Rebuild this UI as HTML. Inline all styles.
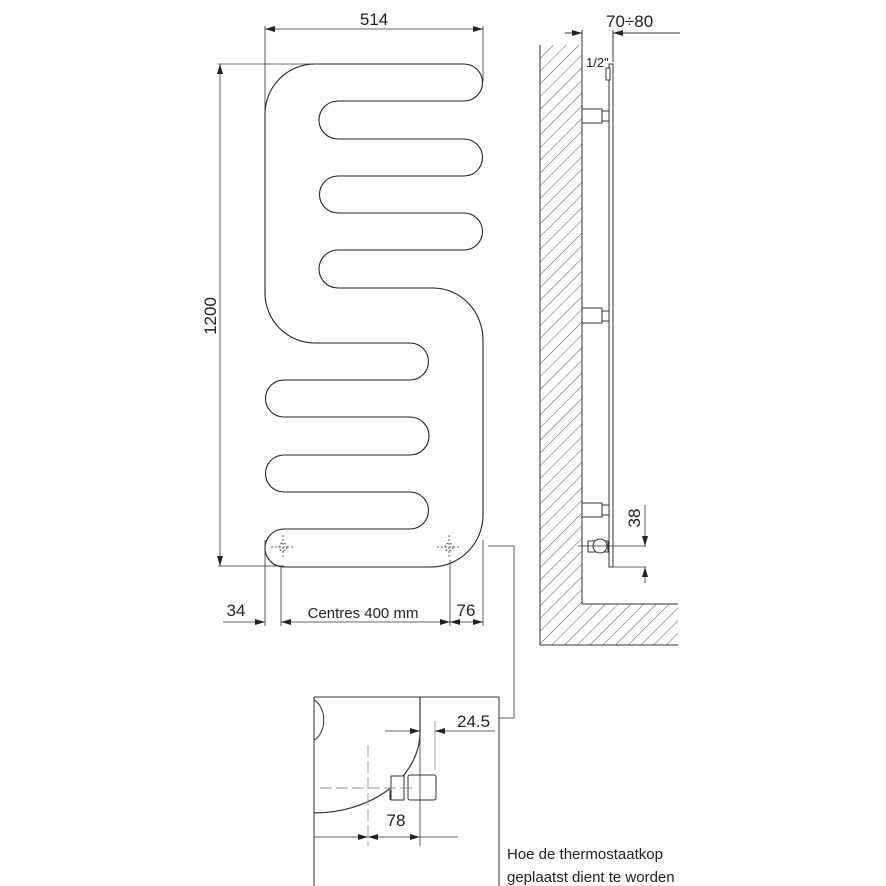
<!DOCTYPE html>
<html><head><meta charset="utf-8"><style>
html,body{margin:0;padding:0;background:#fff;}
svg{display:block;}
text{font-family:"Liberation Sans Narrow","Liberation Sans",sans-serif;fill:#222;}
</style></head><body>
<svg width="886" height="886" viewBox="0 0 886 886" xmlns="http://www.w3.org/2000/svg">
<defs>
<marker id="a" viewBox="0 0 10 6" refX="10" refY="3" markerWidth="10" markerHeight="6" markerUnits="userSpaceOnUse" orient="auto"><path d="M0,0 L10,3 L0,6 Z" fill="#222"/></marker>
<pattern id="h" patternUnits="userSpaceOnUse" width="9" height="9" patternTransform="rotate(45)"><line x1="0" y1="0" x2="0" y2="9" stroke="#444" stroke-width="0.9"/></pattern>
<clipPath id="wc"><path d="M540 45 H582 V604 H678 V645 H540 Z"/></clipPath>
</defs>
<g fill="none" stroke="#222" stroke-width="1.1">
<path d="M318 64 H464 A18.5 18.5 0 0 1 464 101 H338 A19 19 0 0 0 338 139 H464 A18.5 18.5 0 0 1 464 176 H338 A18.5 18.5 0 0 0 338 213 H464 A18.5 18.5 0 0 1 464 250 H338 A19 19 0 0 0 338 288 H433 A50 52 0 0 1 483 340 V515 A52 52 0 0 1 431 567 H284 A19 19 0 0 1 284 529 H410 A18.5 18.5 0 0 0 410 492 H284 A18.5 18.5 0 0 1 284 455 H410 A19 19 0 0 0 410 417 H284 A18.5 18.5 0 0 1 284 380 H410 A18.5 18.5 0 0 0 410 343 H315 A50 50 0 0 1 265 293 V114 A50 50 0 0 1 315 64 Z"/>
</g>
<g fill="none" stroke="#333" stroke-width="0.8" stroke-dasharray="2,2">
<circle cx="283" cy="547" r="4"/><line x1="271" y1="547" x2="295" y2="547"/><line x1="283" y1="535" x2="283" y2="559"/>
<circle cx="449" cy="547" r="4"/><line x1="437" y1="547" x2="461" y2="547"/><line x1="449" y1="535" x2="449" y2="559"/>
</g>
<g fill="none" stroke="#333" stroke-width="0.8">
<line x1="265" y1="26" x2="265" y2="114"/><line x1="483" y1="26" x2="483" y2="82"/>
<line x1="300" y1="29" x2="483" y2="29" marker-end="url(#a)"/><line x1="300" y1="29" x2="265" y2="29" marker-end="url(#a)"/>
<line x1="218" y1="64" x2="318" y2="64"/><line x1="218" y1="566" x2="284" y2="566"/>
<line x1="220" y1="300" x2="220" y2="64" marker-end="url(#a)"/><line x1="220" y1="300" x2="220" y2="566" marker-end="url(#a)"/>
<line x1="265" y1="540" x2="265" y2="626"/><line x1="281" y1="566" x2="281" y2="626"/><line x1="450" y1="560" x2="450" y2="626"/><line x1="483" y1="540" x2="483" y2="626"/>
<line x1="223" y1="622" x2="265" y2="622" marker-end="url(#a)"/>
<line x1="360" y1="622" x2="281" y2="622" marker-end="url(#a)"/><line x1="360" y1="622" x2="450" y2="622" marker-end="url(#a)"/>
<line x1="466" y1="622" x2="450" y2="622" marker-end="url(#a)"/><line x1="466" y1="622" x2="483" y2="622" marker-end="url(#a)"/>
<polyline points="488,546 514,546 514,718 499,718"/>
</g>
<text x="374" y="25" font-size="17" text-anchor="middle">514</text>
<text transform="translate(216,316) rotate(-90)" font-size="17" text-anchor="middle">1200</text>
<text x="236" y="616" font-size="17" text-anchor="middle">34</text>
<text x="363" y="618" font-size="15" text-anchor="middle">Centres 400 mm</text>
<text x="466" y="616" font-size="17" text-anchor="middle">76</text>
<rect x="530" y="40" width="160" height="610" fill="url(#h)" clip-path="url(#wc)"/>
<g fill="none" stroke="#333" stroke-width="1">
<line x1="540" y1="45" x2="540" y2="645"/><line x1="540" y1="645" x2="678" y2="645"/>
<polyline points="582,30 582,604 678,604"/>
<line x1="613" y1="30" x2="613" y2="62"/>
<line x1="565" y1="33" x2="582" y2="33" marker-end="url(#a)"/><line x1="680" y1="33" x2="613" y2="33" marker-end="url(#a)"/>
</g>
<g fill="#fff" stroke="#333" stroke-width="1">
<rect x="609" y="64" width="4" height="503"/>
<rect x="606" y="68" width="4" height="12"/>
<rect x="582" y="109" width="20" height="14"/><rect x="602" y="111" width="7" height="10"/>
<rect x="582" y="308" width="20" height="15"/><rect x="602" y="311" width="7" height="10"/>
<rect x="582" y="503" width="20" height="14"/><rect x="602" y="505" width="7" height="10"/>
<rect x="588" y="541" width="20" height="11"/>
<circle cx="600" cy="546" r="7"/>
</g>
<g fill="none" stroke="#333" stroke-width="0.8">
<line x1="578" y1="546" x2="646" y2="546"/><line x1="610" y1="567" x2="646" y2="567"/>
<line x1="645" y1="505" x2="645" y2="546" marker-end="url(#a)"/><line x1="645" y1="583" x2="645" y2="567" marker-end="url(#a)"/>
</g>
<text x="606" y="27" font-size="17">70÷80</text>
<text x="586" y="67" font-size="13">1/2"</text>
<text transform="translate(640,518) rotate(-90)" font-size="17" text-anchor="middle">38</text>
<g fill="none" stroke="#333" stroke-width="1">
<path d="M314 697 H499 V886 M314 697 V886"/>
<path d="M314 700 A14 21 0 0 1 314 740"/>
<path d="M420 697 V732 A106 81 0 0 1 314 813" stroke-width="1.2"/>
<rect x="391" y="776" width="13" height="24" fill="#fff"/><rect x="408" y="775" width="28" height="25" rx="2" fill="#fff"/>
<line x1="390" y1="790" x2="390" y2="800"/>
</g>
<g fill="none" stroke="#999" stroke-width="0.9">
<line x1="320" y1="788" x2="415" y2="788" stroke-dasharray="12,4"/>
<line x1="368" y1="745" x2="368" y2="846" stroke-dasharray="12,4"/>
<line x1="435" y1="721" x2="435" y2="770"/>
</g>
<g fill="none" stroke="#333" stroke-width="0.8">
<line x1="420" y1="732" x2="420" y2="846"/>
<line x1="385" y1="731" x2="420" y2="731" marker-end="url(#a)"/><line x1="495" y1="731" x2="435" y2="731" marker-end="url(#a)"/>
<line x1="314" y1="837" x2="368" y2="837" marker-end="url(#a)"/><line x1="385" y1="837" x2="368" y2="837" marker-end="url(#a)"/>
<line x1="385" y1="837" x2="420" y2="837" marker-end="url(#a)"/><line x1="420" y1="837" x2="458" y2="837"/>
</g>
<text x="457" y="727" font-size="17">24.5</text>
<text x="396" y="826" font-size="17" text-anchor="middle">78</text>
<text x="507" y="859" font-size="15">Hoe de thermostaatkop</text>
<text x="507" y="882" font-size="15">geplaatst dient te worden</text>
</svg>
</body></html>
